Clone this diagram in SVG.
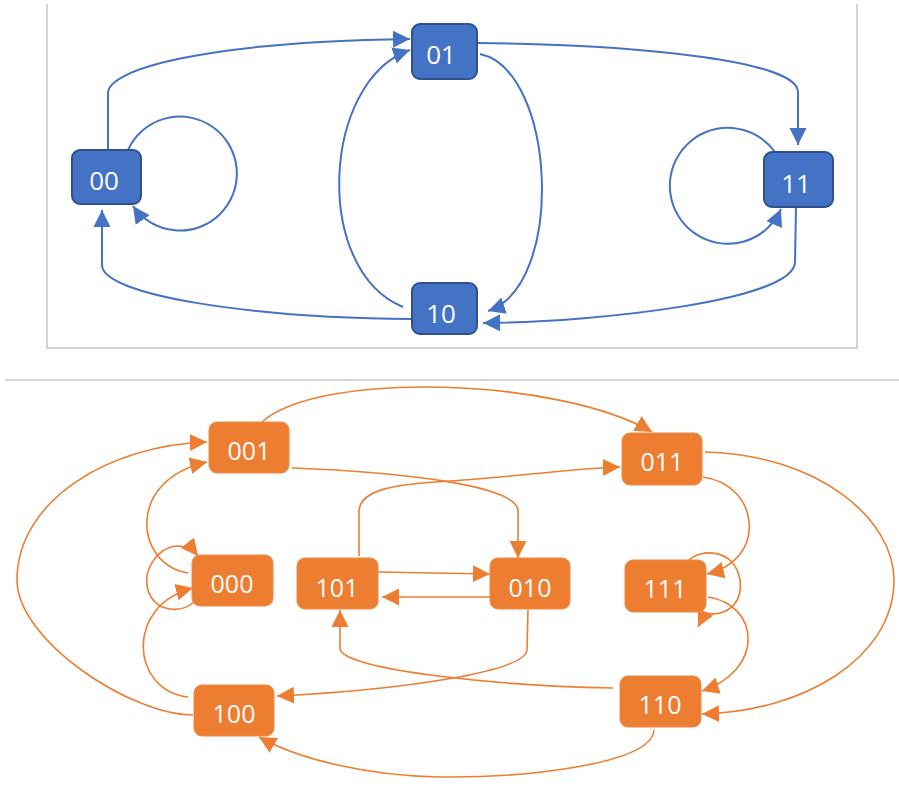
<svg xmlns="http://www.w3.org/2000/svg" width="899" height="793" viewBox="0 0 899 793">
<defs>
<style>
.frame{fill:none;stroke:#C8C8C8;stroke-width:1.5}
.bn rect{fill:#4472C4;stroke:#2F528F;stroke-width:2}
.on rect{fill:#ED7D31;stroke:#F08A45;stroke-width:1}
.bt{font-family:"Open Sans","Liberation Sans",sans-serif;font-size:26px;fill:#FFFFFF;text-anchor:middle}
.ot{font-family:"Open Sans","Liberation Sans",sans-serif;font-size:25px;fill:#FFFFFF;text-anchor:middle}
.be{fill:none;stroke:#4472C4;stroke-width:2;marker-end:url(#ab)}
.oe{fill:none;stroke:#ED7D31;stroke-width:1.6;marker-end:url(#ao)}
</style>
<marker id="ab" markerUnits="userSpaceOnUse" markerWidth="18" markerHeight="18" refX="17" refY="8.5" orient="auto" viewBox="0 0 18 17">
<path d="M0,0 L17,8.5 L0,17 z" fill="#4472C4"/>
</marker>
<marker id="ao" markerUnits="userSpaceOnUse" markerWidth="18" markerHeight="18" refX="17" refY="8.5" orient="auto" viewBox="0 0 18 17">
<path d="M0,0 L17,8.5 L0,17 z" fill="#ED7D31"/>
</marker>
</defs>
<rect width="899" height="793" fill="#FFFFFF"/>
<path class="frame" d="M47,4 L47,348 L857,348 L857,4"/>
<line x1="5" y1="380" x2="899" y2="380" stroke="#C8C8C8" stroke-width="1.5"/>

<g id="connectors-top">
<path class="be" d="M108,150 L108,93 C108,70 200,42 410,39"/>
<path class="be" d="M403,307 C312,270 322,80 410,50"/>
<path class="be" d="M480,54 C556,70 566,285 488,311"/>
<path class="be" d="M478,43 C650,45 798,62 798,92 L798,145"/>
<path class="be" d="M796,207 L795,262 C795,300 600,322 483,323"/>
<path class="be" d="M412,319 C250,318 102,295 102,265 L102,210"/>
<path class="be" d="M128,150 A57,57 0 1 1 133,206"/>
<path class="be" d="M775,152 A58,58 0 1 0 781,209"/>
</g>

<g id="n00" class="bn"><rect x="72" y="150" width="69" height="54" rx="8"/><text class="bt" x="104" y="190">00</text></g>
<g id="n01" class="bn"><rect x="412" y="24" width="65" height="55" rx="8"/><text class="bt" x="441" y="64">01</text></g>
<g id="n10" class="bn"><rect x="412" y="283" width="65" height="51" rx="8"/><text class="bt" x="441" y="323">10</text></g>
<g id="n11" class="bn"><rect x="764" y="152" width="69" height="55" rx="8"/><text class="bt" x="796" y="193">11</text></g>

<g id="connectors-bottom">
<path class="oe" d="M262,422 C320,370 560,378 652,432"/>
<path class="oe" d="M292,468 C400,472 515,485 518,510 L518,558"/>
<path class="oe" d="M359,556 L359,512 C359,488 400,484 450,481 S580,468 620,467"/>
<path class="oe" d="M378,572 L490,574"/>
<path class="oe" d="M490,597 L382,597"/>
<path class="oe" d="M528,610 L527,650 C525,672 400,690 277,696"/>
<path class="oe" d="M613,688 C500,686 340,670 340,648 L340,610"/>
<path class="oe" d="M703,477 C760,485 768,560 707,574"/>
<path class="oe" d="M688,561 C700,548 735,548 740,580 C743,605 725,617 705,613 L698,627"/>
<path class="oe" d="M708,597 C760,605 765,670 702,691"/>
<path class="oe" d="M705,452 C820,455 894,520 894,580 C894,660 800,712 702,714"/>
<path class="oe" d="M654,730 C652,765 520,778 440,777 C370,776 300,760 259,737"/>
<path class="oe" d="M188,697 C130,690 125,605 193,588"/>
<path class="oe" d="M194,602 C180,614 155,612 148,590 C142,568 160,545 180,546 C188,547 194,551 198,556"/>
<path class="oe" d="M188,573 C135,565 125,480 207,462"/>
<path class="oe" d="M193,715 C130,715 17,640 17,580 C17,500 110,445 207,442"/>
</g>

<g id="n001" class="on"><rect x="209" y="422" width="80" height="51" rx="8"/><text class="ot" x="249" y="460">001</text></g>
<g id="n011" class="on"><rect x="622" y="433" width="80" height="52" rx="8"/><text class="ot" x="662" y="471">011</text></g>
<g id="n000" class="on"><rect x="192" y="555" width="81" height="51" rx="8"/><text class="ot" x="232" y="593">000</text></g>
<g id="n101" class="on"><rect x="297" y="558" width="81" height="51" rx="8"/><text class="ot" x="337" y="597">101</text></g>
<g id="n010" class="on"><rect x="490" y="558" width="80" height="51" rx="8"/><text class="ot" x="530" y="597">010</text></g>
<g id="n111" class="on"><rect x="625" y="560" width="81" height="52" rx="8"/><text class="ot" x="665" y="598">111</text></g>
<g id="n100" class="on"><rect x="194" y="685" width="80" height="51" rx="8"/><text class="ot" x="234" y="723">100</text></g>
<g id="n110" class="on"><rect x="620" y="676" width="81" height="51" rx="8"/><text class="ot" x="660" y="714">110</text></g>
</svg>
